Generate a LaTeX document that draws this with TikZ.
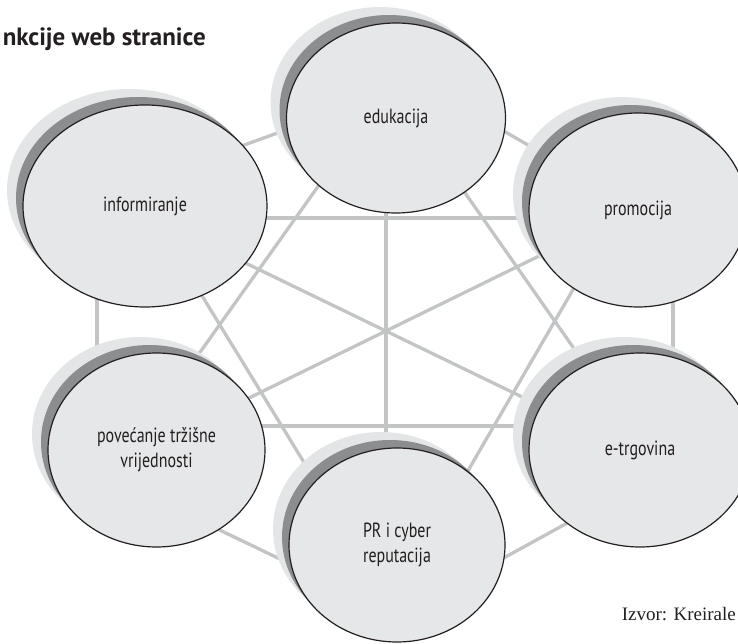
\documentclass[tikz,border=0pt]{standalone}
\usepackage{fontspec}
\usetikzlibrary{shapes.geometric}
\newfontfamily\labfont[FakeStretch=0.78]{PT Sans}
\newfontfamily\titlefont{PT Sans}
\newfontfamily\srcfont{Liberation Serif}
\definecolor{bubblefill}{HTML}{E6E7E8}
\definecolor{shadedark}{HTML}{8C8D8F}
\definecolor{shadelight}{HTML}{E4E5E6}
\definecolor{linkgray}{HTML}{C3C4C6}
\definecolor{inkcol}{HTML}{231F20}
\tikzset{
  bubble/.style={ellipse, draw=inkcol, line width=1.2pt, fill=bubblefill, inner sep=0pt, outer sep=0pt,
    text=inkcol, align=center, font=\labfont\fontsize{20.5}{25}\selectfont},
  link/.style={draw=linkgray, line width=3.3pt},
}
\begin{document}
\begin{tikzpicture}[x=1pt,y=-1pt]
\useasboundingbox (0,0) rectangle (738,644);
% connector end points (hidden under the bubbles)
\coordinate (a1) at (200,161);  \coordinate (b1) at (330,114);
\coordinate (a2) at (450,100);  \coordinate (b2) at (580,175);
\coordinate (a3) at (673,250);  \coordinate (b3) at (673,400);
\coordinate (a4) at (600,505);  \coordinate (b4) at (460,582);
\coordinate (a5) at (180,511);  \coordinate (b5) at (330,583);
\coordinate (a6) at (97,260);   \coordinate (b6) at (97,400);
\coordinate (a7) at (200,218);  \coordinate (b7) at (580,218);
\coordinate (a8) at (200,426);  \coordinate (b8) at (580,426);
\coordinate (a9) at (386,150);  \coordinate (b9) at (386,500);
\coordinate (a10) at (200,241); \coordinate (b10) at (580,425);
\coordinate (a11) at (580,236); \coordinate (b11) at (200,422);
\coordinate (a12) at (344,150); \coordinate (b12) at (166,400);
\coordinate (a13) at (174,250); \coordinate (b13) at (327,500);
\coordinate (a14) at (435,150); \coordinate (b14) at (610,400);
\coordinate (a15) at (596,250); \coordinate (b15) at (451,500);
\foreach \i in {1,...,15} {\draw[link] (a\i) -- (b\i);}
% shadows
\foreach \x/\y/\rx/\ry in {396/118/109.5/95, 145/206/122/101, 638/210/109/97, 640/450/111/97, 397/545/108/97, 156.5/450/108.5/97} {
  \fill[shadelight] (\x-16,\y-16) ellipse [x radius=\rx, y radius=\ry];
  \fill[shadedark] (\x-7,\y-8) ellipse [x radius=\rx, y radius=\ry];
}
% bubbles
\node[bubble, minimum width=219pt, minimum height=190pt] (edu) at (396,118) {edukacija};
\node[bubble, minimum width=244pt, minimum height=202pt] (inf) at (145,206) {informiranje};
\node[bubble, minimum width=218pt, minimum height=194pt] (pro) at (638,210) {promocija};
\node[bubble, minimum width=222pt, minimum height=194pt] (etr) at (640,450) {e-trgovina};
\node[bubble, minimum width=216pt, minimum height=194pt] (prc) at (397,545) {PR i cyber\\reputacija};
\node[bubble, minimum width=217pt, minimum height=194pt] (pov) at (156.5,450) {povećanje tržišne\\vrijednosti};
% texts
\node[anchor=base east, inner sep=0pt, text=inkcol, font=\titlefont\bfseries\fontsize{25}{29}\selectfont] (title) at (206,46) {nkcije web stranice};
\node[anchor=base east, inner sep=0pt, text=inkcol, font=\srcfont\fontsize{19}{23}\selectfont] (src) at (736,620) {Izvor: Kreirale};
\end{tikzpicture}
\end{document}
